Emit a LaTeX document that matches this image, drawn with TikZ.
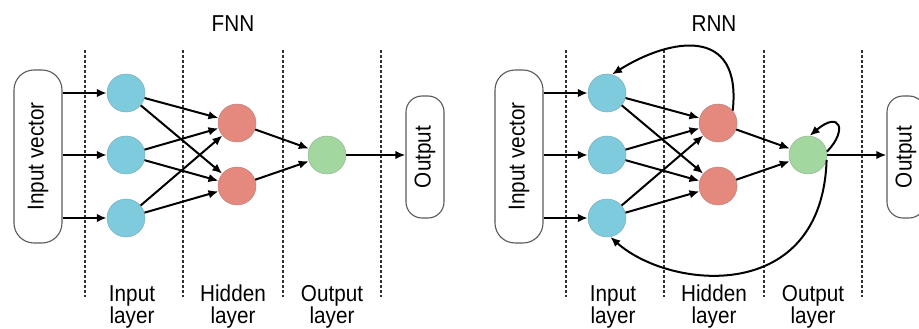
\documentclass[tikz,border=0pt]{standalone}
\usepackage{fontspec}
\setmainfont{Liberation Sans}[FakeStretch=0.9]
\usetikzlibrary{arrows.meta}

\definecolor{inblue}{HTML}{7DCBDD}
\definecolor{hidred}{HTML}{E5887E}
\definecolor{outgreen}{HTML}{A2D8A0}
\definecolor{boxgray}{HTML}{5A5A5A}
\definecolor{guide}{HTML}{303030}

\tikzset{
  neuron/.style={circle, minimum size=38pt, inner sep=0pt, draw=#1!60!gray,
    line width=0.5pt, fill=#1},
  iobox/.style={draw=boxgray, line width=1.1pt, rounded corners=#1, inner sep=0pt,
    font=\fontsize{23}{25}\selectfont},
  link/.style={line width=2pt, -{Latex[length=10pt,width=8.5pt]}},
  guideline/.style={draw=guide, line width=1.4pt, dash pattern=on 3pt off 2pt},
  lbl/.style={font=\fontsize{23}{25}\selectfont, anchor=base, inner sep=0pt},
}

% One network panel; #1 = name prefix, #2 = title
\newcommand{\drawnet}[2]{%
  \node[lbl] (#1title) at (233,32) {#2};
  \foreach \gx in {85,183,283,381} \draw[guideline] (\gx,50) -- (\gx,297);
  % input / output boxes
  \node[iobox=20pt, minimum width=48pt, minimum height=173pt] (#1vec) at (38,156.5)
    {\rotatebox{90}{Input vector}};
  \node[iobox=16pt, minimum width=38pt, minimum height=122pt] (#1out) at (425,157)
    {\rotatebox{90}{Output}};
  % neurons
  \node[neuron=inblue] (#1i1) at (126,93) {};
  \node[neuron=inblue] (#1i2) at (126,155) {};
  \node[neuron=inblue] (#1i3) at (126,218) {};
  \node[neuron=hidred] (#1h1) at (237,123) {};
  \node[neuron=hidred] (#1h2) at (237,186) {};
  \node[neuron=outgreen] (#1o) at (327,155) {};
  % connections
  \foreach \k in {1,2,3} {
    \draw[link] (#1vec.east |- #1i\k) -- (#1i\k);
    \draw[link] (#1i\k) -- (#1h1);
    \draw[link] (#1i\k) -- (#1h2);
  }
  \draw[link] (#1h1) -- (#1o);
  \draw[link] (#1h2) -- (#1o);
  \draw[link] (#1o) -- (#1out.west |- #1o);
  % layer captions
  \node[lbl] (#1cin1) at (132,301) {Input};
  \node[lbl] (#1cin2) at (132,323) {layer};
  \node[lbl] (#1chid1) at (233,301) {Hidden};
  \node[lbl] (#1chid2) at (233,323) {layer};
  \node[lbl] (#1cout1) at (332,301) {Output};
  \node[lbl] (#1cout2) at (332,323) {layer};
}

\begin{document}
\begin{tikzpicture}[x=1pt, y=-1pt]
  \useasboundingbox (0,0) rectangle (919,329);
  \clip (0,0) rectangle (919,329);
  \fill[white] (0,0) rectangle (919,329);

  % feed-forward network
  \begin{scope}
    \drawnet{f}{FNN}
  \end{scope}

  % recurrent network
  \begin{scope}[xshift=481pt]
    \drawnet{r}{RNN}
    % recurrent connections
    \draw[link] (rh1.40) .. controls (261,25) and (189,38) .. (ri1.75);
    \draw[link] (ro.10) .. controls (367,130) and (359,110) .. (ro.85);
    \draw[link] (ro.-15) .. controls (341,305) and (189,290) .. (ri3.-80);
  \end{scope}
\end{tikzpicture}
\end{document}
